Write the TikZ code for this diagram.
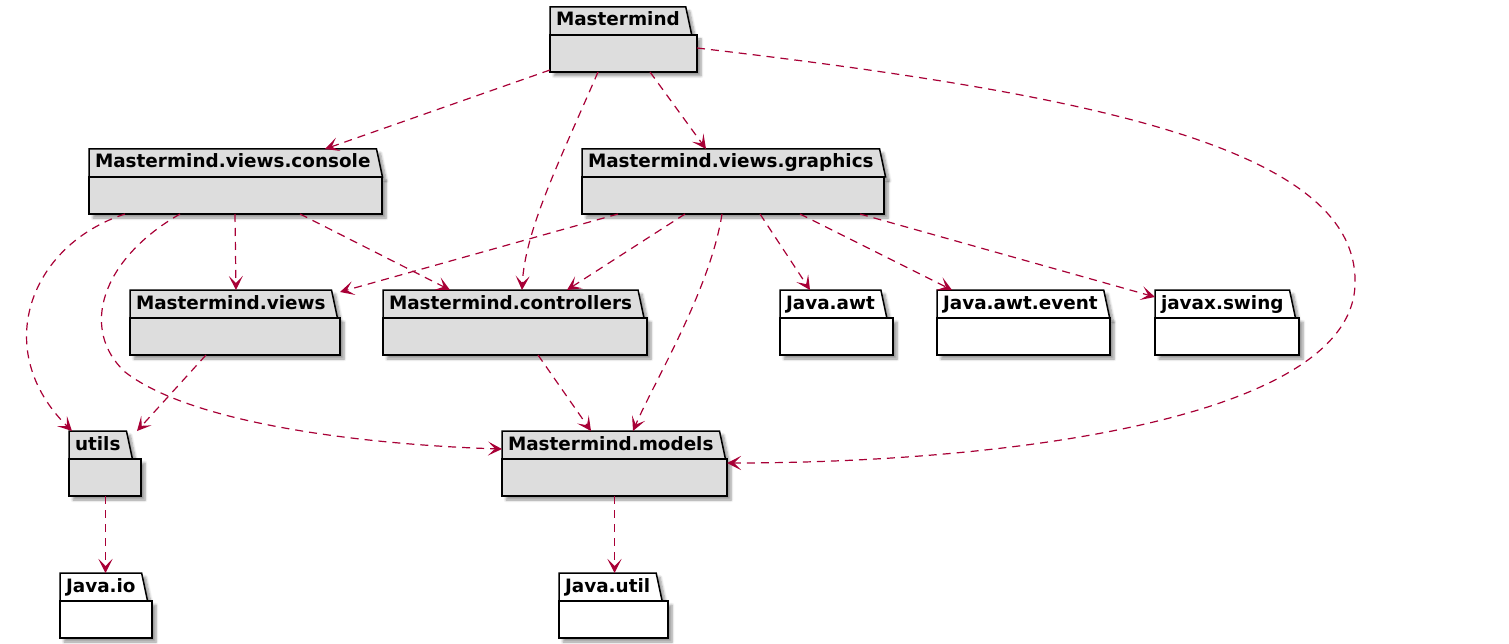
\documentclass[tikz,border=0pt]{standalone}
\usepackage{fontspec}
\newfontfamily\pkgfont{DejaVu Sans}
\usetikzlibrary{calc,shapes.geometric,shadows.blur,arrows.meta}
\definecolor{pkggray}{HTML}{DDDDDD}
\definecolor{deparrow}{HTML}{A80036}

\begin{document}
\begin{tikzpicture}[
  x=1pt, y=-1pt,
  pkgshadow/.style={blur shadow={shadow xshift=4pt,shadow yshift=-4pt,
    shadow opacity=40,shadow blur radius=2.5pt,shadow blur steps=6}},
  tab/.style={draw, line width=1.5pt, pkgshadow, trapezium, trapezium left angle=90,
    trapezium right angle=78, anchor=bottom left corner,
    font=\pkgfont\bfseries\fontsize{18.4}{20}\selectfont,
    text height=14pt, text depth=4pt, inner xsep=6pt, inner ysep=5pt, outer sep=0pt},
  body/.style={draw, line width=1.5pt, pkgshadow, anchor=north west,
    minimum height=37pt, inner sep=0pt, outer sep=0pt},
  dep/.style={draw=deparrow, line width=1.2pt, dash pattern=on 8pt off 6pt,
    -{Stealth[length=14pt,width=14pt,inset=7pt]}},
]
\useasboundingbox (0,0) rectangle (1509,644);

%--- project packages ---------------------------------------------------
\foreach \n/\x/\y/\w/\txt in {mm/550/35/147/Mastermind,
    con/89/177/293/Mastermind.views.console,
    gfx/582/177/302/Mastermind.views.graphics,
    views/130/318/210/Mastermind.views,
    ctrl/383/318/264/Mastermind.controllers,
    utils/69/459/72/utils,
    models/502/459/225/Mastermind.models}{
  \node[tab, fill=pkggray] (\n-t) at (\x,\y) {\txt};
  \node[body, fill=pkggray, minimum width=\w pt] (\n) at (\x,\y) {};
}

%--- library packages ---------------------------------------------------
\foreach \n/\x/\y/\w/\txt in {awt/780/318/113/Java.awt,
    awtev/937/318/173/Java.awt.event,
    swing/1155/318/144/javax.swing,
    io/60/601/92/Java.io,
    jutil/559/601/109/Java.util}{
  \node[tab, fill=white] (\n-t) at (\x,\y) {\txt};
  \node[body, fill=white, minimum width=\w pt] (\n) at (\x,\y) {};
}

%--- dependencies -------------------------------------------------------
% from Mastermind
\draw[dep] ($(mm.south west)+(0,-2)$) -- ($(con-t.top left corner)+(236,0)$);
\draw[dep] ($(mm.south west)+(48,0)$) .. controls (560,160) and (525,230) .. ($(ctrl-t.top left corner)+(139,0)$);
\draw[dep] ($(mm.south west)+(100,0)$) -- ($(gfx-t.top left corner)+(124,0)$);
\coordinate (loop) at (1355,285);
\draw[dep] ($(mm.north east)+(0,13)$) .. controls (1100,95) and (1360,150) .. (loop)
  .. controls (1350,420) and (1000,463) .. ($(models.north east)+(0,4)$);

% from console
\draw[dep] ($(con.south west)+(36,0)$) .. controls (30,245) and (-10,350) .. ($(utils-t.top left corner)+(3,0)$);
\draw[dep] ($(con.south west)+(91,0)$) .. controls (100,260) and (80,330) .. (125,372)
  .. controls (200,430) and (400,446) .. ($(models-t.bottom left corner)+(0,-10)$);
\draw[dep] ($(con.south west)+(146,0)$) -- ($(views-t.top left corner)+(106,0)$);
\draw[dep] ($(con.south west)+(211,0)$) -- ($(ctrl-t.top left corner)+(67,0)$);

% from graphics
\draw[dep] ($(gfx.south west)+(36,0)$) -- ($(views.north east)+(0,-26)$);
\draw[dep] ($(gfx.south west)+(103,0)$) -- ($(ctrl-t.top left corner)+(184,0)$);
\draw[dep] ($(gfx.south west)+(140,0)$) .. controls (710,290) and (655,380) .. ($(models-t.top left corner)+(131,0)$);
\draw[dep] ($(gfx.south west)+(178,0)$) -- ($(awt-t.top left corner)+(30,0)$);
\draw[dep] ($(gfx.south west)+(218,0)$) -- ($(awtev-t.top left corner)+(15,0)$);
\draw[dep] ($(gfx.south west)+(278,0)$) -- ($(swing-t.top left corner)+(0,7)$);

% lower levels
\draw[dep] ($(views.south west)+(76,0)$) -- ($(utils.north east)+(-4,-28)$);
\draw[dep] ($(ctrl.south west)+(155,0)$) -- ($(models-t.top left corner)+(89,0)$);
\draw[dep] ($(utils.south)+(0.5,0)$) -- ($(utils.south |- io-t.top side)+(0.5,0)$);
\draw[dep] (models.south) -- (models.south |- jutil-t.top side);

\end{tikzpicture}
\end{document}
